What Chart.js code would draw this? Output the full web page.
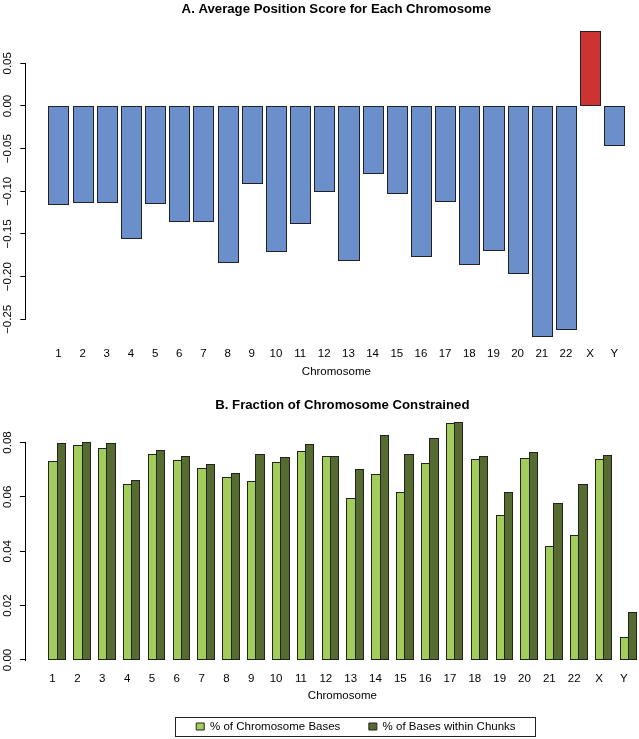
<!DOCTYPE html>
<html>
<head>
<meta charset="utf-8">
<script src="https://cdn.jsdelivr.net/npm/chart.js@4/dist/chart.umd.min.js"></script>
<style>
html, body { margin: 0; padding: 0; background: #ffffff; overflow: hidden; width: 639px; height: 739px; }
#wrapA { position: absolute; left: 0; top: 0; width: 660px; height: 380px; }
#wrapB { position: absolute; left: 0; top: 381px; width: 680px; height: 362px; }
</style>
</head>
<body>
<div id="wrapA"><canvas id="chartA"></canvas></div>
<div id="wrapB"><canvas id="chartB"></canvas></div>
<script>
// ---- data ----
const chromosomes = ['1','2','3','4','5','6','7','8','9','10','11','12','13','14','15','16','17','18','19','20','21','22','X','Y'];
const positionScore = [-0.1145, -0.1129, -0.1121, -0.1547, -0.1133, -0.1344, -0.1344, -0.1828, -0.0906, -0.1695, -0.1367, -0.0992,
  -0.1809, -0.0781, -0.1023, -0.1758, -0.1117, -0.1855, -0.1684, -0.1957, -0.2692, -0.2617, 0.0882, -0.0461];
const pctChromosomeBases = [0.0733, 0.0789, 0.0781, 0.0649, 0.0759, 0.0737, 0.0707, 0.0673, 0.0660, 0.0730, 0.0770, 0.0749,
  0.0594, 0.0685, 0.0619, 0.0724, 0.0872, 0.0739, 0.0534, 0.0744, 0.0419, 0.0458, 0.0738, 0.0083];
const pctBasesInChunks = [0.0799, 0.0803, 0.0799, 0.0662, 0.0773, 0.0751, 0.0722, 0.0687, 0.0757, 0.0746, 0.0793, 0.0751,
  0.0703, 0.0826, 0.0757, 0.0816, 0.0874, 0.0752, 0.0619, 0.0766, 0.0578, 0.0647, 0.0753, 0.0176];
const scoreTicks = [-0.25, -0.20, -0.15, -0.10, -0.05, 0.00, 0.05];
const fractionTicks = [0.00, 0.02, 0.04, 0.06, 0.08];
const seriesLabels = ['% of Chromosome Bases', '% of Bases within Chunks'];
const titleA = 'A. Average Position Score for Each Chromosome';
const titleB = 'B. Fraction of Chromosome Constrained';
const xTitle = 'Chromosome';

// ---- styles ----
Chart.defaults.font.family = "'Liberation Sans', Arial, Helvetica, sans-serif";
Chart.defaults.color = '#000';
const FS = 11.5;
const BLUE = '#6B8FCB', RED = '#CD3333', LIGHT = '#A2CD5A', DARK = '#556B2F', EDGE = '#222222';

// slot positions (R barplot layout: width 1, space 0.2 / beside groups with space 1)
const xA = chromosomes.map((_, i) => 0.7 + 1.2 * i);
const xB = chromosomes.map((_, i) => 2 + 3 * i);
const xBLabel = chromosomes.map((_, i) => 1.5 + 3 * i);

const fmt = v => (v < -1e-9 ? '\u2212' : '') + Math.abs(v).toFixed(2);

const axisLinePlugin = {
  id: 'axisLine',
  afterDraw(chart) {
    const y = chart.scales.y, ctx = chart.ctx;
    const vals = y.ticks.map(t => t.value);
    const p1 = y.getPixelForValue(Math.min(...vals));
    const p2 = y.getPixelForValue(Math.max(...vals));
    const x = Math.round(chart.chartArea.left) + 0.5;
    ctx.save();
    ctx.strokeStyle = '#000';
    ctx.lineWidth = 1;
    ctx.beginPath();
    ctx.moveTo(x, Math.round(p1) + 1);
    ctx.lineTo(x, Math.round(p2));
    ctx.stroke();
    ctx.restore();
  }
};

// draw each bar (geometry from Chart.js bar elements) pixel-aligned, with a 1px outline like R's rect()
const barEdgePlugin = {
  id: 'barEdge',
  beforeDatasetsDraw(chart) {
    const ctx = chart.ctx;
    const area = chart.chartArea;
    ctx.save();
    ctx.lineWidth = 1;
    ctx.strokeStyle = EDGE;
    chart.data.datasets.forEach((ds, di) => {
      const meta = chart.getDatasetMeta(di);
      meta.data.forEach(el => {
        const p = el.getProps(['x', 'y', 'base', 'width'], true);
        const l = Math.round(p.x - p.width / 2);
        const r = Math.round(p.x + p.width / 2);
        const t = Math.round(Math.min(p.y, p.base));
        const b = Math.round(Math.max(p.y, p.base));
        ctx.fillStyle = el.options.backgroundColor;
        ctx.fillRect(l, t, r - l, b - t);
        ctx.strokeRect(l + 0.5, t + 0.5, r - l, b - t);
      });
    });
    ctx.restore();
    return false;
  }
};

const legendFramePlugin = {
  id: 'legendFrame',
  afterLayout(chart, args, opts) {
    const lg = chart.legend;
    if (!lg || opts.centerX === undefined) return;
    const shift = opts.centerX - (lg.left + lg.right) / 2;
    lg.left += shift;
    lg.right += shift;
  },
  afterDraw(chart, args, opts) {
    const lg = chart.legend;
    if (!lg || !lg.legendHitBoxes || !lg.legendHitBoxes.length) return;
    const hb = lg.legendHitBoxes;
    const first = hb[0], last = hb[hb.length - 1];
    const l = Math.round(first.left - opts.padLeft) + 0.5;
    const r = Math.round(last.left + last.width + opts.padRight) + 0.5;
    const cy = first.top + first.height / 2;
    const t = Math.round(cy - opts.halfHeight) + 0.5;
    const b = Math.round(cy + opts.halfHeight) + 0.5;
    const ctx = chart.ctx;
    ctx.save();
    ctx.strokeStyle = '#222';
    ctx.lineWidth = 1;
    ctx.strokeRect(l, t, r - l, b - t);
    ctx.restore();
  }
};

// ---- chart A ----
new Chart(document.getElementById('chartA'), {
  type: 'bar',
  data: {
    datasets: [{
      label: 'Average Position Score',
      data: positionScore.map((v, i) => ({ x: xA[i], y: v })),
      backgroundColor: positionScore.map(v => v > 0 ? RED : BLUE),
      borderWidth: 0,
      categoryPercentage: 1 / 1.2,
      barPercentage: 1
    }]
  },
  options: {
    responsive: true,
    maintainAspectRatio: false,
    animation: false,
    devicePixelRatio: 1,
    layout: { padding: { left: 0, right: 12.6, top: 0, bottom: 0 } },
    plugins: {
      legend: { display: false },
      tooltip: { enabled: false },
      title: {
        display: true, text: titleA, color: '#000', fullSize: false,
        font: { size: 13.2, weight: 'bold' },
        padding: { top: 1.2, bottom: 1.46 }
      }
    },
    scales: {
      x: {
        type: 'linear', offset: false, min: -0.944, max: 29.944,
        grid: { display: false, offset: false }, border: { display: false },
        afterBuildTicks: s => { s.ticks = xA.map(v => ({ value: v })); },
        ticks: { autoSkip: false, minRotation: 0, maxRotation: 0, padding: -8.5, color: '#000',
          font: { size: FS }, callback: (v, i) => chromosomes[i] },
        title: { display: true, text: xTitle, color: '#000', font: { size: FS }, padding: { top: 0, bottom: 1.6 } },
        afterFit: s => { s.height = 32.1; }
      },
      y: {
        min: -0.2835, max: 0.1025,
        afterBuildTicks: s => { s.ticks = scoreTicks.map(v => ({ value: v })); },
        grid: { drawOnChartArea: false, drawTicks: true, tickLength: 5, color: '#000' },
        border: { display: false },
        ticks: { minRotation: 90, maxRotation: 90, crossAlign: 'center', padding: -1.75, color: '#000',
          font: { size: FS }, callback: v => fmt(v) },
        afterFit: s => { s.width = 25.3; }
      }
    }
  },
  plugins: [barEdgePlugin, axisLinePlugin]
});

// ---- chart B ----
new Chart(document.getElementById('chartB'), {
  type: 'bar',
  data: {
    datasets: [
      {
        label: seriesLabels[0],
        data: pctChromosomeBases.map((v, i) => ({ x: xB[i], y: v })),
        backgroundColor: LIGHT, borderWidth: 0,
        categoryPercentage: 2 / 3, barPercentage: 1
      },
      {
        label: seriesLabels[1],
        data: pctBasesInChunks.map((v, i) => ({ x: xB[i], y: v })),
        backgroundColor: DARK, borderWidth: 0,
        categoryPercentage: 2 / 3, barPercentage: 1
      }
    ]
  },
  options: {
    responsive: true,
    maintainAspectRatio: false,
    animation: false,
    devicePixelRatio: 1,
    layout: { padding: { left: 0, right: 20.2, top: 0, bottom: 0.75 } },
    plugins: {
      tooltip: { enabled: false },
      title: {
        display: true, text: titleB, color: '#000', fullSize: false,
        font: { size: 13.2, weight: 'bold' },
        padding: { top: 16, bottom: 0 }
      },
      legend: {
        display: true, position: 'bottom',
        labels: {
          boxWidth: 8, boxHeight: 7, padding: 28.5, color: '#000', font: { size: FS },
          generateLabels: chart => Chart.defaults.plugins.legend.labels.generateLabels(chart)
            .map(it => Object.assign(it, { lineWidth: 1, strokeStyle: EDGE }))
        }
      },
      legendFrame: { centerX: 355.9, padLeft: 21.25, padRight: 19, halfHeight: 9.2 }
    },
    scales: {
      x: {
        type: 'linear', offset: false, min: -1.84, max: 74.84,
        grid: { display: false, offset: false }, border: { display: false },
        afterBuildTicks: s => { s.ticks = xBLabel.map(v => ({ value: v })); },
        ticks: { autoSkip: false, minRotation: 0, maxRotation: 0, padding: -5.7, color: '#000',
          font: { size: FS }, callback: (v, i) => chromosomes[i] },
        title: { display: true, text: xTitle, color: '#000', font: { size: FS }, padding: { top: 0, bottom: -10.4 } },
        afterFit: s => { s.height = 22.75; }
      },
      y: {
        min: -0.0035, max: 0.0909,
        afterBuildTicks: s => { s.ticks = fractionTicks.map(v => ({ value: v })); },
        grid: { drawOnChartArea: false, drawTicks: true, tickLength: 5, color: '#000' },
        border: { display: false },
        ticks: { minRotation: 90, maxRotation: 90, crossAlign: 'center', padding: 1.2, color: '#000',
          font: { size: FS }, callback: v => v.toFixed(2) },
        afterFit: s => { s.width = 24.9; }
      }
    }
  },
  plugins: [barEdgePlugin, axisLinePlugin, legendFramePlugin]
});
</script>
</body>
</html>
